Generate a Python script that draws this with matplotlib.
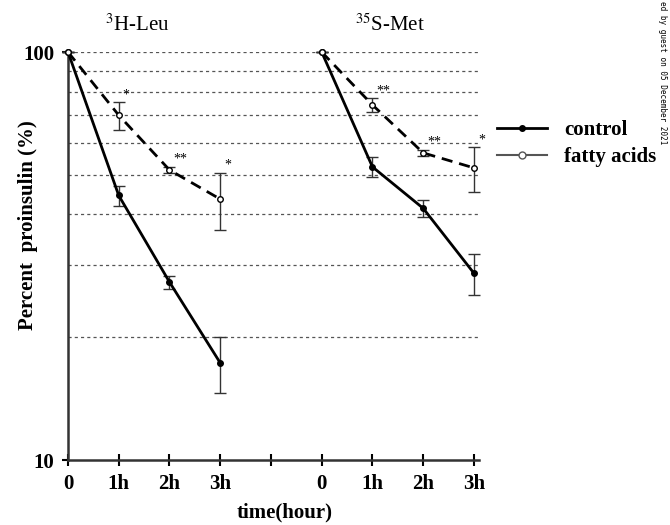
import matplotlib
matplotlib.use('Agg')
import matplotlib.pyplot as plt
from matplotlib.lines import Line2D

plt.rcParams['font.family'] = ['Liberation Serif', 'DejaVu Serif']
plt.rcParams['mathtext.fontset'] = 'stix'

# x positions: 0..3 = 3H-Leu, 5..8 = 35S-Met (4 is an empty tick)
tick_labels = ['0', '1h', '2h', '3h', '', '0', '1h', '2h', '3h']

leu_x = [0, 1, 2, 3]
leu_control = [100, 44.5, 27.3, 17.3]
leu_control_err = [0, 2.5, 1.0, 2.7]
leu_fatty = [100, 70, 51.4, 43.6]
leu_fatty_err = [0, 5.5, 1.0, 7.0]
leu_marks = ['*', '**', '*']

met_x = [5, 6, 7, 8]
met_control = [100, 52.3, 41.4, 28.7]
met_control_err = [0, 3.0, 2.0, 3.3]
met_fatty = [100, 74.2, 56.6, 52.0]
met_fatty_err = [0, 3.0, 1.0, 6.5]
met_marks = ['**', '**', '*']

grid_values = [20, 30, 40, 50, 60, 70, 80, 90, 100]

fig = plt.figure(figsize=(6.7, 5.25), dpi=100)
ax = fig.add_axes([0.1015, 0.1238, 0.6134, 0.7771])
ax.set_yscale('log')
ax.set_ylim(10, 100)
ax.set_xlim(0, 8.1)

for g in grid_values:
    ax.axhline(g, color='#555555', lw=0.9, ls=(0, (2.5, 2.5)), zorder=1)

for xs, ys, es in [(leu_x, leu_control, leu_control_err), (met_x, met_control, met_control_err)]:
    ax.errorbar(xs, ys, yerr=es, color='black', lw=2, marker='o', ms=4,
                mfc='black', ecolor='#333333', elinewidth=1, capsize=4,
                clip_on=False, zorder=3)

for xs, ys, es in [(leu_x, leu_fatty, leu_fatty_err), (met_x, met_fatty, met_fatty_err)]:
    ax.errorbar(xs, ys, yerr=es, color='black', lw=2, ls=(0, (4, 2.5)), marker='o', ms=4,
                mfc='white', ecolor='#333333', elinewidth=1, capsize=4,
                clip_on=False, zorder=3)

# significance marks near fatty acid points
for xs, ys, es, marks in [(leu_x, leu_fatty, leu_fatty_err, leu_marks),
                          (met_x, met_fatty, met_fatty_err, met_marks)]:
    for xv, yv, ev, m in zip(xs[1:], ys[1:], es[1:], marks):
        ax.text(xv + 0.08, yv + ev + 0.3, m, fontsize=10, ha='left', va='bottom')

ax.set_xticks(range(9))
ax.set_xticklabels(tick_labels, fontweight='bold', fontsize=15)
ax.set_yticks([10, 100])
ax.set_yticklabels(['10', '100'], fontweight='bold', fontsize=15)
ax.minorticks_off()
ax.tick_params(axis='x', direction='inout', length=8, width=1.5, pad=6)
ax.tick_params(axis='y', direction='out', length=4, width=1.5, pad=6)

for s in ['top', 'right']:
    ax.spines[s].set_visible(False)
for s in ['left', 'bottom']:
    ax.spines[s].set_linewidth(1.8)
    ax.spines[s].set_color('#333333')

fig.text(0.042, 0.571, 'Percent  proinsulin (%)', rotation=90, fontweight='bold',
         fontsize=15, ha='center', va='center')
fig.text(0.425, 0.005, 'time(hour)', fontweight='bold', fontsize=15, ha='center', va='bottom')

fig.text(0.2045, 0.952, r'$^{3}$H-Leu', fontsize=15, ha='center', va='center')
fig.text(0.582, 0.952, r'$^{35}$S-Met', fontsize=15, ha='center', va='center')

handles = [Line2D([], [], color='black', lw=2, marker='o', ms=4, mfc='black'),
           Line2D([], [], color='#555555', lw=1.5, marker='o', ms=5, mfc='white')]
fig.legend(handles, ['control', 'fatty acids'], loc='center left',
           bbox_to_anchor=(0.714, 0.726), frameon=False, handlelength=2.4,
           prop={'weight': 'bold', 'size': 15}, labelspacing=0.35)

fig.text(0.995, 0.998, 'ed by guest on 05 December 2021', rotation=-90, fontsize=5.5,
         family='DejaVu Sans Mono', ha='right', va='top')

fig.savefig('out.png', dpi=100)
